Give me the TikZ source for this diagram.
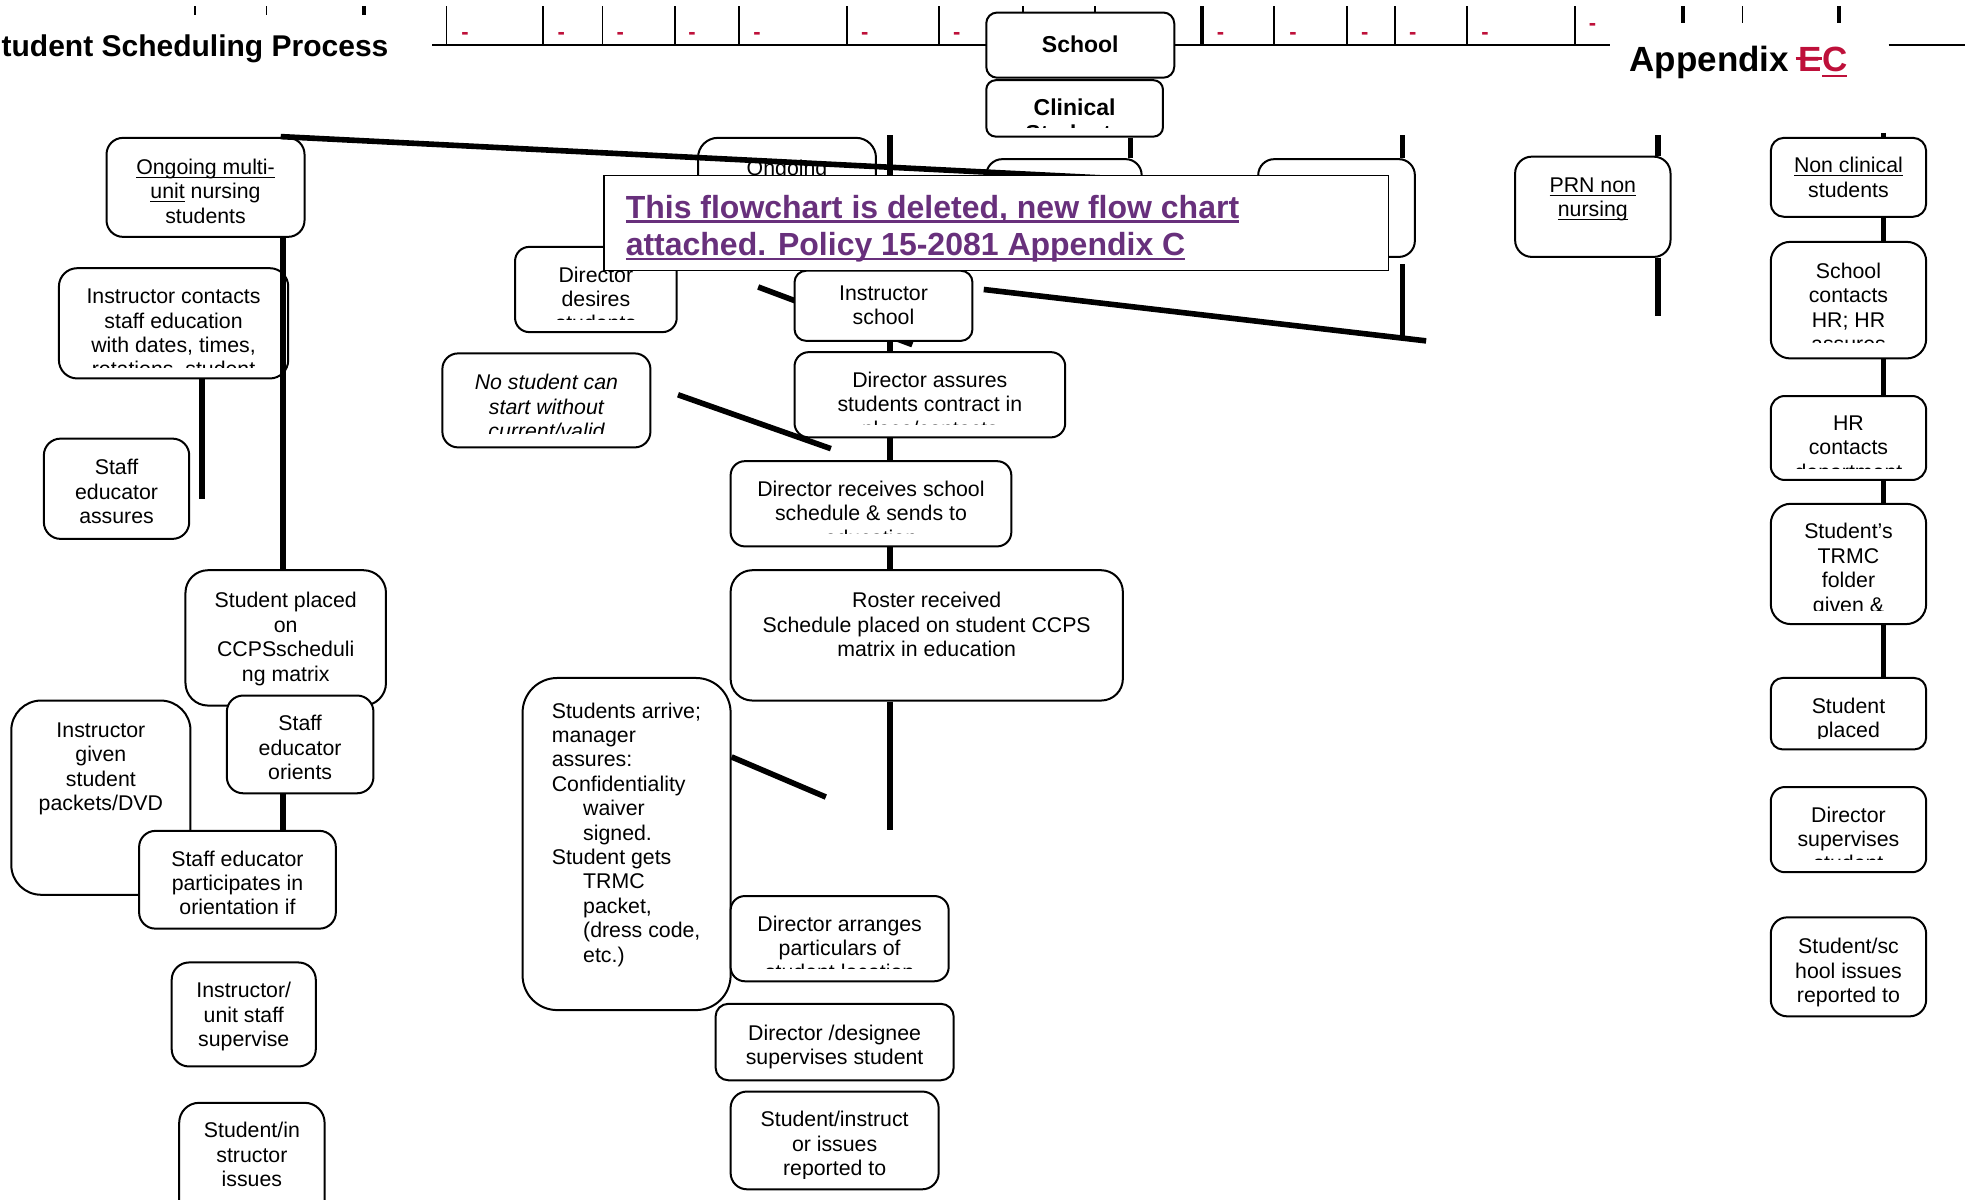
\documentclass[tikz,border=0pt]{standalone}
\usepackage{fontspec}
\setmainfont{Liberation Sans}
\usetikzlibrary{fit}
\definecolor{tcred}{RGB}{190,16,58}
\definecolor{tcpurple}{RGB}{104,48,124}
\newcommand\myul[1]{\setbox0=\hbox{#1}\rlap{\rule[-1.7pt]{\wd0}{0.55pt}}\box0\relax}
\newcommand\bigul[1]{\setbox0=\hbox{#1}\rlap{\rule[-2.4pt]{\wd0}{1.3pt}}\box0\relax}
\newcommand\appul[1]{\setbox0=\hbox{#1}\rlap{\rule[-3pt]{\wd0}{1.2pt}}\box0\relax}
\newcommand\mystrike[1]{\setbox0=\hbox{#1}\rlap{\kern-1.5pt\rule[0.33em]{\dimexpr\wd0+1.5pt\relax}{1.2pt}}\box0\relax}
\newcommand\mkbox[9][]{%
  \node[bx, rounded corners={0.10445*min((#5)-(#3),(#6)-(#4))*1pt}, fit={(#3,#4)(#5,#6)}] (#2) {};
  \begin{scope}
    \clip (#3,#4) rectangle (#5,#7);
    \node[tx,#1] (#2-t) at ({(#3+#5)/2},{#8-5.6}) {#9};
  \end{scope}}
\begin{document}
\begin{tikzpicture}[x=0.6266pt, y=-0.6266pt,
  bx/.style={draw, fill=white, line width=1pt, inner sep=0pt},
  tx/.style={anchor=north, align=center, inner sep=0pt, font=\fontsize{10.65}{12.2}\selectfont, execute at begin node={\rule{0pt}{9pt}}},
  conn/.style={line width=2.8pt},
  hdr/.style={line width=1pt},
  tick/.style={line width=0.8pt},
  thtick/.style={line width=2pt},
  dashmk/.style={text=tcred, font=\bfseries\fontsize{11}{13}\selectfont, inner sep=0pt, anchor=base}
]
\useasboundingbox (0,0) rectangle (1568,957);

% ---------- header rule, ticks and red marks ----------
\coordinate (hA) at (345,36); \coordinate (hB) at (800,36);
\coordinate (hC) at (930,36); \coordinate (hD) at (1285,36);
\coordinate (hE) at (1507,36); \coordinate (hF) at (1568,36);
\draw[hdr] (hA) -- (hB);
\draw[hdr] (hC) -- (hD);
\draw[hdr] (hE) -- (hF);
\foreach \x in {356.2,433.2,480.9,538.5,589.9,675.8,749.5,816.2,873.8,1016.6,1075,1113.2,1170.4,1256.6}
  \draw[tick] (\x,4.8) -- (\x,36);
\draw[thtick] (959.3,4.8) -- (959.3,36);
\foreach \x in {155.7,212.7} \draw[tick] (\x,4.8) -- (\x,12);
\draw[thtick] (290.3,4.8) -- (290.3,12);
\draw[thtick] (1343,4.8) -- (1343,18.4);
\draw[tick] (1390.3,4.8) -- (1390.3,18.4);
\draw[thtick] (1467.2,4.8) -- (1467.2,18.4);
\foreach \x [count=\i] in {371,447.8,495,552.3,604,690,763.4,974,1031.7,1089.1,1127.4,1184.9}
  \node[dashmk] (dm\i) at (\x,31.5) {-};
\node[dashmk] (dm13) at (1270.8,24.3) {-};

% ---------- titles ----------
\node[anchor=base west, inner sep=0pt, font=\bfseries\fontsize{15}{18}\selectfont] (title) at (1,45) {tudent Scheduling Process};
\node[anchor=base west, inner sep=0pt, font=\bfseries\fontsize{17.5}{21}\selectfont] (app) at (1300,57) {Appendix \textcolor{tcred}{\mystrike{E}\appul{C}}};

% ---------- left column ----------
\mkbox{ong}{85}{110}{243}{189}{189}{132}{\myul{Ongoing multi-}\\\myul{unit} nursing\\students}
\mkbox{icon}{47}{214}{230}{302}{293.5}{236}{Instructor contacts\\staff education\\with dates, times,\\rotations, student}
\mkbox{sea}{35}{350}{151}{430}{430}{372}{Staff\\educator\\assures}
\mkbox{spl}{148}{455}{308}{563}{563}{478}{Student placed\\on\\CCPSscheduli\\ng matrix}
\mkbox{igv}{9}{559}{152}{714}{714}{582}{Instructor\\given\\student\\packets/DVD}
\mkbox{seo}{181}{555}{298}{633}{633}{576}{Staff\\educator\\orients}
\mkbox{sep}{111}{663}{268}{741}{741}{684}{Staff educator\\participates in\\orientation if}
\mkbox{ius}{137}{768}{252}{851}{851}{789}{Instructor/\\unit staff\\supervise}
\mkbox{sii}{143}{880}{259}{975}{975}{901}{Student/in\\structor\\issues}

% ---------- middle column ----------
\mkbox{ongm}{557}{110}{699}{205}{205}{131}{\myul{Ongoing}}
\node[bx, rounded corners=8pt, fit={(787,127)(911,205)}] (cs) {};
\node[bx, rounded corners=8pt, fit={(1004,127)(1129,205)}] (vb) {};
\mkbox{dd}{411}{197}{540}{265}{254.6}{218}{Director\\desires\\students}
\mkbox[font=\fontsize{10.65}{12.2}\selectfont\itshape]{nsc}{353}{282}{519}{357}{345.6}{304}{No student can\\start without\\current/valid}
\coordinate (l8s) at (605,229); \coordinate (l8e) at (728,275);
\draw[conn] (l8s) -- (l8e);
\mkbox{isch}{634}{216}{776}{272}{272}{233}{Instructor\\school}
\mkbox{das}{634}{281}{850}{349}{339}{302}{Director assures\\students contract in\\place/contacts}
\mkbox{drs}{583}{368}{807}{436}{426}{389}{Director receives school\\schedule \& sends to\\education}
\mkbox{ros}{583}{455}{896}{559}{559}{478}{Roster received\\Schedule placed on student CCPS\\matrix in education}
\node[bx, rounded corners=17.3pt, fit={(417,541)(583,806)}] (qbox) {};
\node[tx, anchor=north west, align=left] (qbox-t) at (440,560.4) {Students arrive;\\manager\\assures:\\Confidentiality\\\hspace*{15.7pt}waiver\\\hspace*{15.7pt}signed.\\Student gets\\\hspace*{15.7pt}TRMC\\\hspace*{15.7pt}packet,\\\hspace*{15.7pt}(dress code,\\\hspace*{15.7pt}etc.)};
\mkbox{dar}{583}{715}{757}{783}{772.5}{736}{Director arranges\\particulars of\\student location}
\mkbox{dds}{571}{801}{761}{862}{862}{823}{Director /designee\\supervises student}
\mkbox{sir}{583}{871}{749}{949}{940}{892}{Student/instruct\\or issues\\reported to}

% ---------- right columns ----------
\mkbox{prn}{1209}{125}{1333}{205}{205}{147}{\myul{PRN non}\\\myul{nursing}}
\mkbox{ncl}{1413}{110}{1537}{173}{173}{131}{\myul{Non clinical}\\students}
\mkbox{sch}{1413}{193}{1537}{286}{273.4}{215}{School\\contacts\\HR; HR\\assures}
\mkbox{hrc}{1413}{316}{1537}{383}{373.5}{337}{HR\\contacts\\department}
\mkbox{trm}{1413}{402}{1537}{498}{487}{423}{Student’s\\TRMC\\folder\\given \&}
\mkbox{stp}{1413}{541}{1537}{598}{589}{562}{Student\\placed}
\mkbox{dsv}{1413}{628}{1537}{696}{685.7}{649}{Director\\supervises\\student}
\mkbox{ssi}{1413}{732}{1537}{811}{811}{754}{Student/sc\\hool issues\\reported to}

% ---------- header boxes ----------
\mkbox[font=\bfseries\fontsize{11.5}{13.2}\selectfont]{school}{787}{10}{937}{62}{62}{33}{School}
\mkbox[font=\bfseries\fontsize{11.5}{13.2}\selectfont]{clin}{787}{64}{928}{109}{101.5}{84}{Clinical\\Students}

% ---------- connectors ----------
\coordinate (x226) at (226,0); \coordinate (x161) at (161,0);
\coordinate (x710) at (710,0); \coordinate (x902) at (902,0);
\coordinate (x1119) at (1119,0); \coordinate (x1323) at (1323,0);
\coordinate (x1503) at (1503,0);
\coordinate (l1s) at (224,109); \coordinate (l1e) at (900,143);
\draw[conn] (l1s) -- (l1e);
\draw[conn] (ong.south -| x226) -- (spl.north -| x226);
\coordinate (l3e) at (161,398);
\draw[conn] (icon.south -| x161) -- (l3e);
\draw[conn] (seo.south -| x226) -- (sep.north -| x226);
\coordinate (m1s) at (710,108); \coordinate (m1e) at (710,150);
\draw[conn] (m1s) -- (m1e);
\draw[conn] (isch.south -| x710) -- (das.north -| x710);
\draw[conn] (das.south -| x710) -- (drs.north -| x710);
\draw[conn] (drs.south -| x710) -- (ros.north -| x710);
\coordinate (m2e) at (710,662);
\draw[conn] (ros.south -| x710) -- (m2e);
\draw[conn] (clin.south -| x902) -- (cs.north -| x902);
\coordinate (v1s) at (1119,108);
\draw[conn] (v1s) -- (vb.north -| x1119);
\coordinate (v2s) at (1119,211); \coordinate (v2e) at (1119,271);
\draw[conn] (v2s) -- (v2e);
\coordinate (d1s) at (785,231); \coordinate (d1e) at (1138,272);
\draw[conn] (d1s) -- (d1e);
\coordinate (d2s) at (541,315); \coordinate (d2e) at (663,358);
\draw[conn] (d2s) -- (d2e);
\coordinate (d3e) at (659,636);
\draw[conn] (qbox.east |- 0,604) -- (d3e);
\coordinate (p1s) at (1323,108); \coordinate (p2e) at (1323,252);
\draw[conn] (p1s) -- (prn.north -| x1323);
\draw[conn] (prn.south -| x1323) -- (p2e);
\coordinate (n1s) at (1503,106);
\draw[conn] (n1s) -- (ncl.north -| x1503);
\draw[conn] (ncl.south -| x1503) -- (sch.north -| x1503);
\draw[conn] (sch.south -| x1503) -- (hrc.north -| x1503);
\draw[conn] (hrc.south -| x1503) -- (trm.north -| x1503);
\draw[conn] (trm.south -| x1503) -- (stp.north -| x1503);

% ---------- overlay note ----------
\node[draw, fill=white, line width=0.8pt, inner sep=0pt, fit={(482,140)(1108,216)}] (ov) {};
\node[anchor=base west, inner sep=0pt, text=tcpurple, font=\bfseries\fontsize{16}{19}\selectfont] (ov1) at (499,174) {\bigul{This flowchart is deleted, new flow chart}};
\node[anchor=base west, inner sep=0pt, text=tcpurple, font=\bfseries\fontsize{16}{19}\selectfont] (ov2) at (499,204) {\bigul{attached. Policy 15-2081 Appendix C}};
\end{tikzpicture}
\end{document}
